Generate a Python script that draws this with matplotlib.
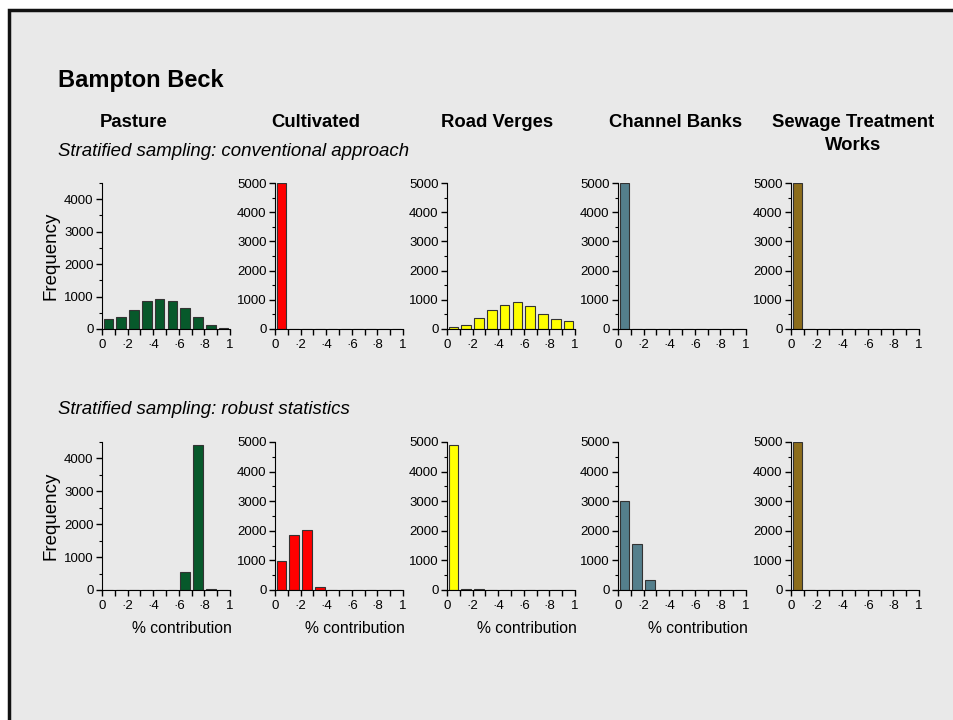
import numpy as np
import matplotlib
matplotlib.use("Agg")
import matplotlib.pyplot as plt
from matplotlib.patches import Rectangle
from matplotlib.ticker import MultipleLocator

plt.rcParams['font.family'] = ['Liberation Sans', 'DejaVu Sans']

# source categories and histogram bins (width 0.1 from 0 to 1)
sources = ["Pasture", "Cultivated", "Road Verges", "Channel Banks", "Sewage Treatment\nWorks"]
colors = ["#07592b", "#ff0000", "#ffff00", "#547f8c", "#8c6d1c"]
bin_left = [0.0, 0.1, 0.2, 0.3, 0.4, 0.5, 0.6, 0.7, 0.8, 0.9]
xtick_labels = ["0", "·2", "·4", "·6", "·8", "1"]

# frequencies, conventional approach
conv_pasture = [295, 370, 580, 850, 925, 875, 650, 360, 135, 30]
conv_cultivated = [5000, 0, 0, 0, 0, 0, 0, 0, 0, 0]
conv_road = [70, 150, 375, 640, 830, 910, 800, 500, 340, 260]
conv_channel = [5000, 0, 0, 0, 0, 0, 0, 0, 0, 0]
conv_sewage = [5000, 0, 0, 0, 0, 0, 0, 0, 0, 0]

# frequencies, robust statistics
rob_pasture = [0, 0, 0, 0, 0, 0, 540, 4420, 30, 0]
rob_cultivated = [965, 1875, 2020, 115, 0, 0, 0, 0, 0, 0]
rob_road = [4890, 50, 20, 0, 0, 0, 0, 0, 0, 0]
rob_channel = [3010, 1570, 350, 0, 0, 0, 0, 0, 0, 0]
rob_sewage = [5000, 0, 0, 0, 0, 0, 0, 0, 0, 0]

rows = [
    [conv_pasture, conv_cultivated, conv_road, conv_channel, conv_sewage],
    [rob_pasture, rob_cultivated, rob_road, rob_channel, rob_sewage],
]

W, H = 954, 720
fig = plt.figure(figsize=(W / 100, H / 100), dpi=100)
fig.patch.set_facecolor("white")

# slide frame
fig.patches.append(Rectangle((9 / W, -0.05), 1.1, 1 - 10 / H + 0.05, transform=fig.transFigure,
                             facecolor="#e9e9e9", edgecolor="#111111", linewidth=2.5, zorder=-10))


def px(x, y):
    return x / W, 1 - y / H


fig.text(*px(58, 81), "Bampton Beck", fontsize=17, fontweight="bold", va="center", ha="left")
head_x = [134, 316, 497, 676, 853]
for name, hx in zip(sources, head_x):
    fig.text(*px(hx, 114), name, fontsize=13.3, fontweight="bold", ha="center", va="top",
             linespacing=1.45)
fig.text(*px(58, 151), "Stratified sampling: conventional approach", fontsize=13.4,
         style="italic", va="center")
fig.text(*px(58, 410), "Stratified sampling: robust statistics", fontsize=13.4,
         style="italic", va="center")

ax_left = [102, 275, 447, 618, 791]
row_bottom = [329, 590]
row_height = [146, 148]
centers = np.array(bin_left) + 0.05

for r, data in enumerate(rows):
    for c, vals in enumerate(data):
        l, b = px(ax_left[c], row_bottom[r])
        ax = fig.add_axes([l, b, 128 / W, row_height[r] / H])
        ax.set_facecolor("none")
        ax.bar(centers, vals, width=0.076, color=colors[c], edgecolor="#333333", linewidth=0.8)
        ax.set_xlim(0, 1)
        top = 4500 if c == 0 else 5000
        ax.set_ylim(0, top)
        ax.spines["top"].set_visible(False)
        ax.spines["right"].set_visible(False)
        ax.set_xticks(np.arange(0, 1.01, 0.2))
        ax.set_xticklabels(xtick_labels)
        ax.xaxis.set_minor_locator(MultipleLocator(0.1))
        ax.set_yticks(np.arange(0, top + 1, 1000))
        ax.yaxis.set_minor_locator(MultipleLocator(500))
        ax.tick_params(axis="both", which="major", labelsize=9.5, direction="out", length=4,
                       width=1, pad=2)
        ax.tick_params(axis="y", which="minor", length=2.5, width=0.8)
        ax.tick_params(axis="x", which="minor", length=4, width=1)
        ax.tick_params(axis="x", pad=3)
        if c == 0:
            ax.set_ylabel("Frequency", fontsize=13.5, labelpad=3)
        if r == 1 and c < 4:
            ax.text(0.625, -0.26, "% contribution", transform=ax.transAxes, ha="center",
                    va="center", fontsize=11.3)

fig.savefig("out.png", dpi=100)
